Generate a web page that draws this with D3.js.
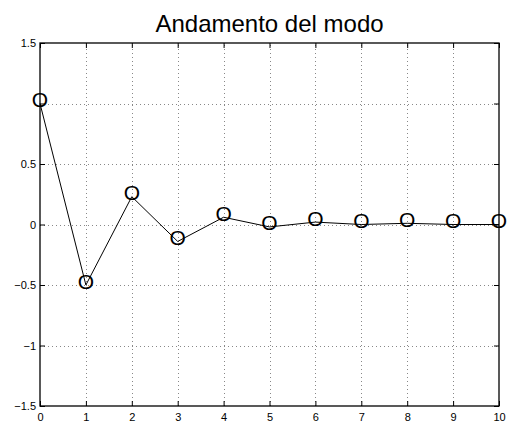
<!DOCTYPE html>
<meta charset="utf-8">
<style>
body { margin: 0; background: #fff; }
svg { display: block; font-family: "Liberation Sans", Arial, Helvetica, sans-serif; }
.grid line { stroke: #888; stroke-dasharray: 1,3; shape-rendering: crispEdges; }
.grid .domain { display: none; }
.axis .domain { display: none; }
.axis line { stroke: #000; }
.axis text { font-size: 11px; fill: #000; }
</style>
<body>
<script src="https://cdn.jsdelivr.net/npm/d3@7"></script>
<script>
// sample index and mode amplitude
const xTicks = [0, 1, 2, 3, 4, 5, 6, 7, 8, 9, 10];
const modeValues = [1.0, -0.5, 0.23, -0.14, 0.06, -0.02, 0.02, 0.0, 0.01, 0.0, 0.0];
const yTicks = [-1.5, -1, -0.5, 0, 0.5, 1, 1.5];
const yTickLabels = ["\u22121.5", "\u22121", "\u22120.5", "0", "0.5", "", "1.5"];
const title = "Andamento del modo";

const W = 512, H = 423;
const margin = {top: 43, right: 13, bottom: 17, left: 40},
      width = W - margin.left - margin.right,
      height = H - margin.top - margin.bottom;

const svg = d3.select("body").append("svg")
    .attr("width", W)
    .attr("height", H);

const g = svg.append("g")
    .attr("transform", "translate(" + margin.left + "," + margin.top + ")");

const x = d3.scaleLinear().domain([0, 10]).range([0, width]);
const y = d3.scaleLinear().domain([-1.5, 1.5]).range([height, 0]);

// dotted grid
g.append("g").attr("class", "grid")
  .attr("transform", "translate(0," + height + ")")
  .call(d3.axisBottom(x).tickValues(xTicks.slice(1, -1)).tickSize(-height).tickFormat(""));
g.append("g").attr("class", "grid")
  .call(d3.axisLeft(y).tickValues(yTicks.slice(1, -1)).tickSize(-width).tickFormat(""));

// data line
const line = d3.line()
    .x((d, i) => x(xTicks[i]))
    .y(d => y(d));

g.append("path")
  .datum(modeValues)
  .attr("fill", "none")
  .attr("stroke", "#000")
  .attr("stroke-width", 1)
  .attr("d", line);

// "O" markers
g.selectAll("text.mark")
  .data(modeValues)
  .enter().append("text")
  .attr("class", "mark")
  .attr("x", (d, i) => x(xTicks[i]))
  .attr("y", d => y(d) + 3.5)
  .attr("text-anchor", "middle")
  .style("font-size", "21px")
  .text("O");

// axes with inward ticks
g.append("g").attr("class", "axis")
  .attr("transform", "translate(0," + height + ")")
  .call(d3.axisBottom(x).tickValues(xTicks).tickSize(-5).tickPadding(7).tickFormat(d3.format("d")));
g.append("g").attr("class", "axis")
  .call(d3.axisTop(x).tickValues(xTicks).tickSize(-5).tickFormat(""));
g.append("g").attr("class", "axis")
  .call(d3.axisLeft(y).tickValues(yTicks).tickSize(-5).tickPadding(4)
    .tickFormat((d, i) => yTickLabels[i]));
g.append("g").attr("class", "axis")
  .attr("transform", "translate(" + width + ",0)")
  .call(d3.axisRight(y).tickValues(yTicks).tickSize(-5).tickFormat(""));

// box
g.append("rect")
  .attr("width", width)
  .attr("height", height)
  .attr("fill", "none")
  .attr("stroke", "#000")
  .attr("stroke-width", 1.3);

svg.append("text")
  .attr("x", margin.left + width / 2)
  .attr("y", 32)
  .attr("text-anchor", "middle")
  .style("font-size", "24px")
  .text(title);
</script>
